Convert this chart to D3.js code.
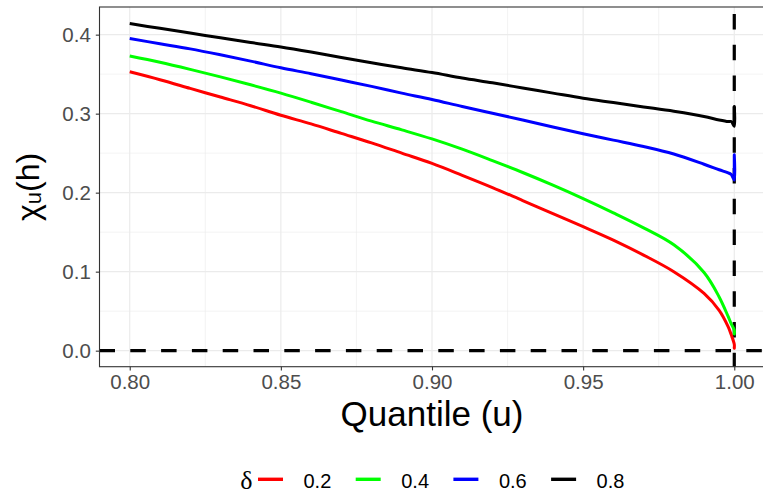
<!DOCTYPE html>
<html>
<head>
<meta charset="utf-8">
<script src="https://cdn.jsdelivr.net/npm/d3@7"></script>
<style>
  html, body { margin: 0; padding: 0; background: #fff; }
  svg { display: block; font-family: 'Liberation Sans', Arial, sans-serif; }
</style>
</head>
<body>
<div id="chart"></div>
<script>
/*global d3*/

// quantile grid the curves were read at (1.00 repeats for the jump at the end)
var quantiles = [0.80, 0.81, 0.82, 0.83, 0.84, 0.85, 0.86, 0.87, 0.88, 0.89,
                 0.90, 0.91, 0.92, 0.93, 0.94, 0.95, 0.96, 0.97, 0.98, 0.99,
                 0.995, 0.998, 0.999, 1.000, 1.000, 1.000];

var chi02 = [0.353, 0.343, 0.332, 0.321, 0.310, 0.298, 0.287, 0.275, 0.263, 0.250,
             0.237, 0.222, 0.2065, 0.190, 0.1735, 0.157, 0.140, 0.121, 0.100, 0.0725,
             0.051, 0.030, 0.020, 0.008, 0.003, 0.005];
var chi04 = [0.373, 0.365, 0.356, 0.3465, 0.3365, 0.326, 0.3145, 0.3025, 0.2905, 0.2795,
             0.268, 0.255, 0.2405, 0.2255, 0.2095, 0.1925, 0.1745, 0.1555, 0.134, 0.099,
             0.068, 0.043, 0.034, 0.026, 0.021, 0.022];
var chi06 = [0.395, 0.3885, 0.382, 0.3745, 0.3665, 0.358, 0.3505, 0.3425, 0.3345, 0.326,
             0.318, 0.309, 0.3005, 0.292, 0.283, 0.2745, 0.2665, 0.2585, 0.249, 0.236,
             0.229, 0.225, 0.223, 0.216, 0.248, 0.222];
var chi08 = [0.414, 0.408, 0.402, 0.396, 0.390, 0.3845, 0.378, 0.371, 0.3645, 0.358,
             0.352, 0.345, 0.339, 0.3325, 0.326, 0.3195, 0.314, 0.3085, 0.303, 0.2965,
             0.292, 0.290, 0.290, 0.284, 0.309, 0.288];

var deltas = ['0.2', '0.4', '0.6', '0.8'];
var xTicks = [0.80, 0.85, 0.90, 0.95, 1.00];
var yTicks = [0.0, 0.1, 0.2, 0.3, 0.4];

(function () {

'use strict';

var colors = ['#ff0000', '#00ff00', '#0000ff', '#000000'],
    grid = '#ebebeb',
    axisGrey = '#333333',
    labelGrey = '#4d4d4d';

  var width = 763, height = 494;
  var panel = {left: 99.5, top: 7, right: 764.5, bottom: 366.7};

  var series = [chi02, chi04, chi06, chi08].map(function (vals, i) {
    return {
      name: deltas[i],
      color: colors[i],
      values: vals.map(function (v, j) { return {u: quantiles[j], chi: v}; })
    };
  });

  var x = d3.scaleLinear().domain([0.79, 1.01]).range([panel.left, panel.right]);
  var y = d3.scaleLinear().domain([-0.0203, 0.435]).range([panel.bottom, panel.top]);

  var svg = d3.select('#chart').append('svg')
      .attr('width', width)
      .attr('height', height);

  svg.append('rect')
    .attr('width', width).attr('height', height)
    .attr('fill', '#fff');

  // minor + major grid
  var xMinor = [0.825, 0.875, 0.925, 0.975],
      yMinor = [0.05, 0.15, 0.25, 0.35];

  var g = svg.append('g');

  g.selectAll('.ygridminor').data(yMinor).enter().append('line')
    .attr('x1', panel.left).attr('x2', panel.right)
    .attr('y1', function (d) { return y(d); }).attr('y2', function (d) { return y(d); })
    .attr('stroke', grid).attr('stroke-width', 0.6);
  g.selectAll('.xgridminor').data(xMinor).enter().append('line')
    .attr('y1', panel.top).attr('y2', panel.bottom)
    .attr('x1', function (d) { return x(d); }).attr('x2', function (d) { return x(d); })
    .attr('stroke', grid).attr('stroke-width', 0.6);
  g.selectAll('.ygrid').data(yTicks).enter().append('line')
    .attr('x1', panel.left).attr('x2', panel.right)
    .attr('y1', function (d) { return y(d); }).attr('y2', function (d) { return y(d); })
    .attr('stroke', grid).attr('stroke-width', 1.2);
  g.selectAll('.xgrid').data(xTicks).enter().append('line')
    .attr('y1', panel.top).attr('y2', panel.bottom)
    .attr('x1', function (d) { return x(d); }).attr('x2', function (d) { return x(d); })
    .attr('stroke', grid).attr('stroke-width', 1.2);

  // reference lines
  svg.append('line')
    .attr('x1', panel.left).attr('x2', panel.right)
    .attr('y1', y(0)).attr('y2', y(0))
    .attr('stroke', '#000').attr('stroke-width', 3.2)
    .attr('stroke-dasharray', '15.5,15.3');
  svg.append('line')
    .attr('x1', x(1)).attr('x2', x(1))
    .attr('y1', panel.top).attr('y2', panel.bottom)
    .attr('stroke', '#000').attr('stroke-width', 3.2)
    .attr('stroke-dasharray', '15.5,15.3')
    .attr('stroke-dashoffset', 23.8);

  var line = d3.line()
    .curve(d3.curveCatmullRom.alpha(0.5))
    .x(function (d) { return x(d.u); })
    .y(function (d) { return y(d.chi); });

  svg.selectAll('.series').data(series).enter().append('path')
    .attr('d', function (d) { return line(d.values); })
    .attr('fill', 'none')
    .attr('stroke', function (d) { return d.color; })
    .attr('stroke-width', 3)
    .attr('stroke-linejoin', 'round')
    .attr('stroke-linecap', 'butt');

  // panel border
  svg.append('rect')
    .attr('x', panel.left).attr('y', panel.top)
    .attr('width', panel.right - panel.left).attr('height', panel.bottom - panel.top)
    .attr('fill', 'none').attr('stroke', axisGrey).attr('stroke-width', 1.1);

  // axes
  var xAxis = svg.append('g')
      .attr('transform', 'translate(0,' + panel.bottom + ')')
      .call(d3.axisBottom(x).tickValues(xTicks).tickSize(3.7).tickPadding(4)
        .tickFormat(d3.format('.2f')));
  var yAxis = svg.append('g')
      .attr('transform', 'translate(' + panel.left + ',0)')
      .call(d3.axisLeft(y).tickValues(yTicks).tickSize(3.7).tickPadding(5)
        .tickFormat(d3.format('.1f')));

  [xAxis, yAxis].forEach(function (a) {
    a.select('.domain').remove();
    a.selectAll('.tick line').attr('stroke', axisGrey).attr('stroke-width', 1.1);
    a.selectAll('.tick text')
      .attr('fill', labelGrey)
      .style('font-size', '20.5px')
      .style('font-family', "'Liberation Sans', Arial, sans-serif");
  });
  xAxis.selectAll('.tick text').attr('dy', '0.71em');

  // axis titles
  svg.append('text')
    .attr('x', (panel.left + panel.right) / 2)
    .attr('y', 426)
    .attr('text-anchor', 'middle')
    .style('font-size', '35px')
    .text('Quantile (u)');

  var yTitle = svg.append('text')
    .attr('transform', 'translate(39,' + ((panel.top + panel.bottom) / 2) + ') rotate(-90)')
    .attr('text-anchor', 'middle')
    .style('font-size', '32px');
  yTitle.append('tspan').text('χ');
  yTitle.append('tspan').attr('dy', 2).style('font-size', '22px').text('u');
  yTitle.append('tspan').attr('dy', -2).text('(h)');

  // legend
  var legend = svg.append('g');
  legend.append('text')
    .attr('x', 246.5).attr('y', 489)
    .attr('text-anchor', 'middle')
    .style('font-family', "'Liberation Serif', 'DejaVu Serif', serif")
    .style('font-size', '26px')
    .text('δ');

  var item = legend.selectAll('.item').data(series).enter().append('g')
    .attr('transform', function (d, i) { return 'translate(' + (258 + i * 97.7) + ',0)'; });
  item.append('line')
    .attr('x1', 0).attr('x2', 25)
    .attr('y1', 479.3).attr('y2', 479.3)
    .attr('stroke', function (d) { return d.color; })
    .attr('stroke-width', 3.4);
  item.append('text')
    .attr('x', 45.5).attr('y', 488.3)
    .style('font-size', '20px')
    .text(function (d) { return d.name; });

})();
</script>
</body>
</html>
